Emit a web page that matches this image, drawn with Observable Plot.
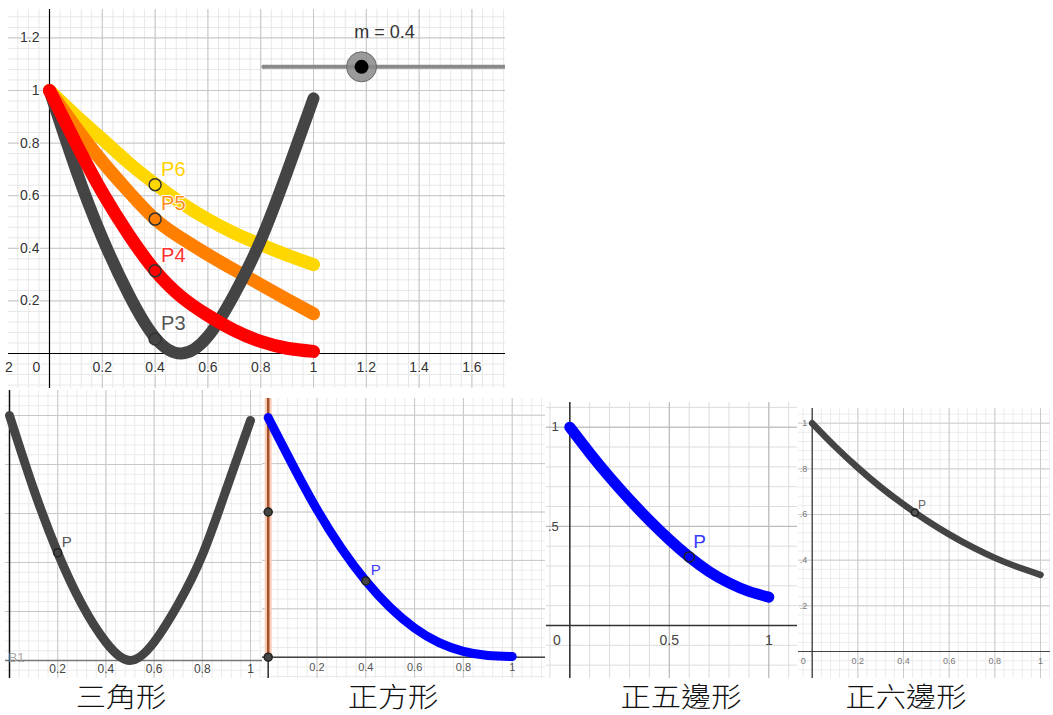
<!DOCTYPE html>
<html><head><meta charset="utf-8">
<script src="https://cdn.jsdelivr.net/npm/d3@7"></script>
<script src="https://cdn.jsdelivr.net/npm/@observablehq/plot@0.6"></script>
<style>
body{margin:0;background:#fff;}
#root{position:relative;width:1053px;height:715px;overflow:hidden;font-family:"Liberation Sans",Arial,sans-serif;}
.panel{position:absolute;}
.panel svg{display:block;}
.title{position:absolute;font-family:"Noto Sans CJK TC","Noto Sans CJK SC",sans-serif;font-size:27px;font-weight:300;color:#111;white-space:nowrap;transform:translateX(-50%) scaleX(1.12);line-height:normal;}
</style></head><body><div id="root"></div>
<script>
// ---------- data ----------
const xSamples = [0, 0.1, 0.2, 0.3, 0.4, 0.5, 0.6, 0.7, 0.8, 0.9, 1];

// top chart (P3..P6)
const topP3 = [1.00, 0.70, 0.44, 0.225, 0.06, 0.00, 0.065, 0.225, 0.43, 0.69, 0.97];
const topP4 = [1.00, 0.80, 0.613, 0.452, 0.315, 0.215, 0.145, 0.088, 0.046, 0.02, 0.008];
const topP5 = [1.00, 0.86, 0.73, 0.615, 0.511, 0.438, 0.376, 0.318, 0.262, 0.206, 0.151];
const topP6 = [1.00, 0.905, 0.815, 0.725, 0.645, 0.572, 0.51, 0.458, 0.414, 0.374, 0.338];
const topNames = ["P3", "P4", "P5", "P6"];
const topPointY = [0.055, 0.315, 0.511, 0.642];
const m = 0.4;
const topXTicks = [0.2, 0.4, 0.6, 0.8, 1, 1.2, 1.4, 1.6];
const topYTicks = [0.2, 0.4, 0.6, 0.8, 1, 1.2];
const topCutTick = {x: -0.2, label: "2"};   // only the last digit of "-0.2" shows

// bottom panels
const triY  = [1.00, 0.70, 0.44, 0.23, 0.075, 0.00, 0.075, 0.23, 0.43, 0.70, 0.98];
const sqY   = [0.99, 0.795, 0.61, 0.45, 0.315, 0.205, 0.12, 0.06, 0.024, 0.007, 0.003];
const pentY = [1.00, 0.87, 0.748, 0.635, 0.53, 0.433, 0.346, 0.272, 0.215, 0.172, 0.143];
const hexY  = [1.00, 0.898, 0.805, 0.72, 0.644, 0.575, 0.513, 0.458, 0.41, 0.37, 0.336];
const bottomPx = [0.2, 0.4, 0.6, 0.45];
const bottomPy = [0.44, 0.315, 0.346, 0.609];
const panelTitles = ["三角形", "正方形", "正五邊形", "正六邊形"];
const sqAxisDots = [0.6, 0];
const pentXTicks = [0.5, 1];
const pentXLabels = ["0.5", "1"];
const pentYTicks = [0.5, 1];
const pentYLabels = [".5", "1"];       // left part cut off by the panel edge
const unitTicks = [0.2, 0.4, 0.6, 0.8, 1];
const hexYLabels = [".2", ".4", ".6", ".8", "1"];

// ---------- helpers ----------
const root = document.getElementById("root");
const FONT = "Liberation Sans, Arial, sans-serif";
function place(el, left, top) {
  const d = document.createElement("div");
  d.className = "panel"; d.style.left = left + "px"; d.style.top = top + "px";
  d.appendChild(el); root.appendChild(d);
}
function domains(c) {
  return {
    x: [(c.left - c.ox) / c.ux, (c.left + c.width - c.ox) / c.ux],
    y: [(c.oy - (c.top + c.height)) / c.uy, (c.oy - c.top) / c.uy]
  };
}
function steps(lo, hi, step) {
  const a = [];
  for (let i = Math.ceil(lo / step - 1e-9); i * step <= hi + 1e-9; i++) a.push(+(i * step).toFixed(6));
  return a;
}
function grid(dom, minor, major, cMinor, cMajor) {
  return [
    Plot.ruleX(steps(dom.x[0], dom.x[1], minor), {stroke: cMinor}),
    Plot.ruleY(steps(dom.y[0], dom.y[1], minor), {stroke: cMinor}),
    Plot.ruleX(steps(dom.x[0], dom.x[1], major), {stroke: cMajor}),
    Plot.ruleY(steps(dom.y[0], dom.y[1], major), {stroke: cMajor})
  ];
}
function series(ys) { return xSamples.map((x, i) => ({x, y: ys[i]})); }
function fmt(v) { return String(v); }
function makePlot(c, marks, overflow) {
  const dom = domains(c);
  const svg = Plot.plot({
    width: c.width, height: c.height, margin: 0,
    x: {domain: dom.x, axis: null}, y: {domain: dom.y, axis: null},
    style: {background: "white", overflow: overflow || "hidden", fontFamily: FONT},
    marks: marks(dom)
  });
  place(svg, c.left, c.top);
}
const CURVE = "natural";

// ---------- top chart ----------
const topColors = ["#444444", "#ff0000", "#ff8000", "#ffd700"];
const topLabelColors = ["#555555", "#ff3030", "#ff8c1a", "#ffd000"];
const topData = [topP3, topP4, topP5, topP6];
const topCfg = {left: 8, top: 9, width: 497, height: 379, ox: 49, oy: 353, ux: 264, uy: 263};
const slider = {x1: 0.81, x2: 1.74, y: 1.09};
const knobX = d => slider.x1 + d * (slider.x2 - slider.x1);
makePlot(topCfg, dom => [
  ...grid(dom, 0.04, 0.2, "#e8e8e8", "#c6c6c6"),
  Plot.ruleY([0], {stroke: "#000", strokeWidth: 1.2}),
  Plot.ruleX([0], {stroke: "#000", strokeWidth: 1.2}),
  // slider
  Plot.ruleY([slider.y], {x1: slider.x1, x2: dom.x[1], stroke: "#8a8a8a", strokeWidth: 4}),
  Plot.dot([slider.x1], {x: d => d, y: () => slider.y, r: 2, fill: "#8a8a8a"}),
  Plot.dot([m], {x: knobX, y: () => slider.y, r: 15, fill: "#888", fillOpacity: 0.85, stroke: "#6a6a6a", strokeWidth: 1}),
  Plot.dot([m], {x: knobX, y: () => slider.y, r: 7, fill: "#000"}),
  Plot.text([m], {x: knobX, y: () => slider.y, text: d => "m = " + d, dx: 23, dy: -35, fontSize: 18, fill: "#333"}),
  // curves (yellow, orange, black, red)
  ...[3, 2, 0, 1].map(k => Plot.line(series(topData[k]), {x: "x", y: "y", stroke: topColors[k], strokeWidth: k === 0 ? 12 : 13, curve: CURVE, strokeLinecap: "round", strokeLinejoin: "round"})),
  // points P3..P6 at x = m
  Plot.dot(topNames.map((n, i) => ({n, i, y: topPointY[i]})), {x: () => m, y: "y", r: 6, fill: d => topColors[d.i], stroke: "#333", strokeWidth: 1.5}),
  Plot.text(topNames.map((n, i) => ({n, i, y: topPointY[i]})), {x: () => m, y: "y", text: "n", dx: 6, dy: -9, lineAnchor: "bottom", textAnchor: "start", fontSize: 20, fill: d => topLabelColors[d.i], stroke: "white", strokeWidth: 2}),
  // tick labels
  Plot.text(topXTicks, {x: d => d, y: () => 0, text: fmt, dy: 14, fontSize: 14, fill: "#333", stroke: "white", strokeWidth: 3}),
  Plot.text([0], {x: d => d, y: () => 0, text: fmt, dx: -13, dy: 14, fontSize: 14, fill: "#333", stroke: "white", strokeWidth: 3}),
  Plot.text([topCutTick], {x: "x", y: () => 0, text: "label", dx: 16, dy: 14, textAnchor: "end", fontSize: 14, fill: "#333", stroke: "white", strokeWidth: 3}),
  Plot.text(topYTicks, {x: () => 0, y: d => d, text: fmt, dx: -10, textAnchor: "end", fontSize: 14, fill: "#333", stroke: "white", strokeWidth: 3})
], "visible");

// ---------- triangle ----------
makePlot({left: 5, top: 390, width: 257, height: 288, ox: 9, oy: 660, ux: 241, uy: 245}, dom => [
  ...grid(dom, 0.04, 0.2, "#ebebeb", "#c8c8c8"),
  Plot.ruleY([0], {stroke: "#777", strokeWidth: 1.5}),
  Plot.ruleX([0], {stroke: "#111", strokeWidth: 1.5}),
  Plot.text(["B1"], {x: () => 0, y: () => 0, text: d => d, dx: -1, dy: -3, textAnchor: "start", fontSize: 13, fill: "#aaa"}),
  Plot.line(series(triY), {x: "x", y: "y", stroke: "#444", strokeWidth: 9, curve: CURVE, strokeLinecap: "round"}),
  Plot.dot([0], {x: () => bottomPx[0], y: () => bottomPy[0], r: 4, fill: "#444", stroke: "#222"}),
  Plot.text(["P"], {x: () => bottomPx[0], y: () => bottomPy[0], text: d => d, dx: 4, dy: -6, lineAnchor: "bottom", textAnchor: "start", fontSize: 15, fill: "#555"}),
  Plot.text(unitTicks, {x: d => d, y: () => 0, text: fmt, dy: 8.5, fontSize: 12, fill: "#444"})
]);

// ---------- square ----------
makePlot({left: 262, top: 398, width: 283, height: 280, ox: 267.7, oy: 656.7, ux: 244, uy: 242}, dom => [
  ...grid(dom, 0.04, 0.2, "#ebebeb", "#c8c8c8"),
  Plot.ruleY([0], {stroke: "#444", strokeWidth: 1.5}),
  Plot.ruleX([0], {stroke: "#333", strokeWidth: 1.5}),
  Plot.ruleX([0], {y1: 0, y2: dom.y[1], stroke: "#f7cdb8", strokeWidth: 7}),
  Plot.ruleX([0], {y1: 0, y2: dom.y[1], stroke: "#a5502a", strokeWidth: 2.5}),
  Plot.dot(sqAxisDots, {x: () => 0, y: d => d, r: 4, fill: "#444", stroke: "#222"}),
  Plot.line(series(sqY), {x: "x", y: "y", stroke: "#0000ff", strokeWidth: 9, curve: CURVE, strokeLinecap: "round"}),
  Plot.dot([0], {x: () => bottomPx[1], y: () => bottomPy[1], r: 4, fill: "#444", stroke: "#222"}),
  Plot.text(["P"], {x: () => bottomPx[1], y: () => bottomPy[1], text: d => d, dx: 5, dy: -6, lineAnchor: "bottom", textAnchor: "start", fontSize: 15, fill: "#3b3bff"}),
  Plot.text(unitTicks, {x: d => d, y: () => 0, text: fmt, dy: 10, fontSize: 11, fill: "#555"})
]);

// ---------- pentagon ----------
makePlot({left: 546, top: 402, width: 251, height: 276, ox: 569.3, oy: 625, ux: 199, uy: 198.3}, dom => [
  ...grid(dom, 0.1, 0.5, "#dcdcdc", "#b4b4b4"),
  Plot.ruleY([0], {stroke: "#333", strokeWidth: 1.5}),
  Plot.ruleX([0], {stroke: "#333", strokeWidth: 1.5}),
  Plot.line(series(pentY), {x: "x", y: "y", stroke: "#0000ff", strokeWidth: 11, curve: CURVE, strokeLinecap: "round"}),
  Plot.dot([0], {x: () => bottomPx[2], y: () => bottomPy[2], r: 5, fill: "#0000ff", stroke: "#222", strokeWidth: 1.5}),
  Plot.text(["P"], {x: () => bottomPx[2], y: () => bottomPy[2], text: d => d, dx: 4, dy: -9, lineAnchor: "bottom", textAnchor: "start", fontSize: 19, fill: "#3a3aff"}),
  Plot.text(pentXTicks, {x: d => d, y: () => 0, text: (d, i) => pentXLabels[i], dy: 15, fontSize: 14, fill: "#444"}),
  Plot.text([0], {x: d => d, y: () => 0, text: fmt, dx: -13, dy: 15, fontSize: 14, fill: "#444"}),
  Plot.text(pentYTicks, {x: () => 0, y: d => d, text: (d, i) => pentYLabels[i], dx: -11, textAnchor: "end", fontSize: 13, fill: "#444"})
]);

// ---------- hexagon ----------
makePlot({left: 798, top: 408, width: 252, height: 270, ox: 811.7, oy: 651, ux: 228.3, uy: 228.3}, dom => [
  ...grid(dom, 0.04, 0.2, "#ececec", "#cccccc"),
  Plot.ruleY([0], {stroke: "#444", strokeWidth: 1.2}),
  Plot.ruleX([0], {stroke: "#333", strokeWidth: 1.2}),
  Plot.line(series(hexY), {x: "x", y: "y", stroke: "#444", strokeWidth: 6.5, curve: CURVE, strokeLinecap: "round"}),
  Plot.dot([0], {x: () => bottomPx[3], y: () => bottomPy[3], r: 3.5, fill: "#555", stroke: "#222"}),
  Plot.text(["P"], {x: () => bottomPx[3], y: () => bottomPy[3], text: d => d, dx: 3, dy: -3, lineAnchor: "bottom", textAnchor: "start", fontSize: 12, fill: "#666"}),
  Plot.text(unitTicks, {x: d => d, y: () => 0, text: fmt, dy: 10, fontSize: 9, fill: "#777"}),
  Plot.text([0], {x: d => d, y: () => 0, text: fmt, dx: -9, dy: 10, fontSize: 9, fill: "#777"}),
  Plot.text(unitTicks, {x: () => 0, y: d => d, text: (d, i) => hexYLabels[i], dx: -5, textAnchor: "end", fontSize: 9, fill: "#777"})
]);

// ---------- titles ----------
const titleCenters = [121, 393, 681, 906];
panelTitles.forEach((t, i) => {
  const d = document.createElement("div");
  d.className = "title"; d.textContent = t;
  d.style.left = titleCenters[i] + "px"; d.style.top = "675.5px";
  root.appendChild(d);
});
</script></body></html>
